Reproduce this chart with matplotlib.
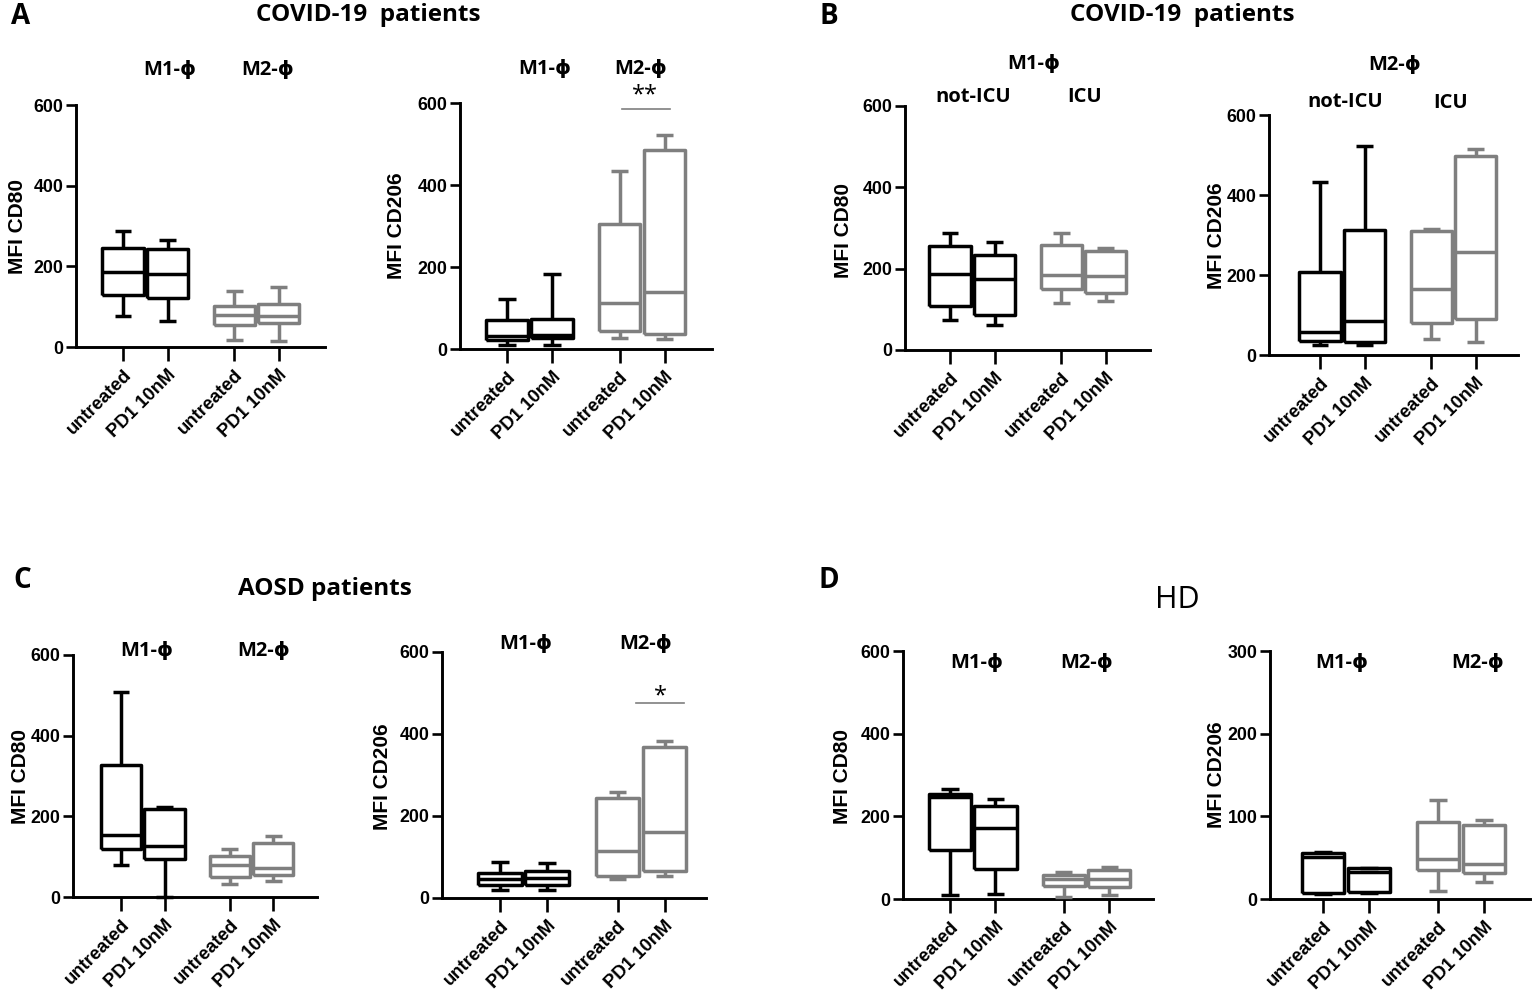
import matplotlib
matplotlib.use("Agg")
import matplotlib.pyplot as plt

W, H = 1535, 994

# ---------------- data (box statistics) ----------------
tick_labels = ["untreated", "PD1 10nM", "untreated", "PD1 10nM"]
positions = [0, 1, 2.5, 3.5]
box_colors = ["#000000", "#000000", "#7f7f7f", "#7f7f7f"]

# A1: COVID-19, MFI CD80
A1_whislo = [76, 64, 17, 14]
A1_q1 = [130, 121, 55, 59]
A1_med = [187, 181, 80, 78]
A1_q3 = [245, 243, 102, 107]
A1_whishi = [288, 266, 139, 149]

# A2: COVID-19, MFI CD206
A2_whislo = [10, 10, 26, 24]
A2_q1 = [22, 26, 44, 36]
A2_med = [32, 34, 111, 138]
A2_q3 = [71, 72, 304, 485]
A2_whishi = [123, 182, 434, 523]

# B1: COVID-19 M1, not-ICU / ICU, MFI CD80
B1_whislo = [74, 61, 116, 121]
B1_q1 = [108, 86, 149, 139]
B1_med = [186, 174, 184, 182]
B1_q3 = [256, 234, 258, 244]
B1_whishi = [287, 265, 287, 250]

# B2: COVID-19 M2, not-ICU / ICU, MFI CD206
B2_whislo = [25, 25, 40, 32]
B2_q1 = [36, 33, 81, 89]
B2_med = [58, 86, 166, 258]
B2_q3 = [208, 313, 310, 497]
B2_whishi = [432, 522, 315, 515]

# C1: AOSD, MFI CD80
C1_whislo = [79, 0, 31, 39]
C1_q1 = [120, 95, 50, 55]
C1_med = [153, 126, 79, 73]
C1_q3 = [327, 219, 101, 134]
C1_whishi = [509, 224, 118, 151]

# C2: AOSD, MFI CD206
C2_whislo = [20, 20, 46, 54]
C2_q1 = [32, 32, 54, 65]
C2_med = [46, 49, 115, 162]
C2_q3 = [61, 65, 245, 369]
C2_whishi = [89, 85, 258, 384]

# D1: HD, MFI CD80
D1_whislo = [10, 13, 6, 9]
D1_q1 = [119, 72, 32, 28]
D1_med = [247, 172, 48, 48]
D1_q3 = [255, 225, 59, 71]
D1_whishi = [265, 241, 65, 77]

# D2: HD, MFI CD206
D2_whislo = [6, 7, 10, 20]
D2_q1 = [7, 8, 35, 31]
D2_med = [51, 33, 48, 42]
D2_q3 = [56, 37, 93, 89]
D2_whishi = [57, 38, 120, 95]

# ---------------- helpers ----------------
BOLD_SANS = ["Open Sans", "DejaVu Sans"]
TICK_FONT = "Liberation Sans"


def fx(x):
    return x / W


def fy(y):
    return 1 - y / H


fig = plt.figure(figsize=(W / 100, H / 100), dpi=100)
fig.patch.set_facecolor("white")


def panel(geom, whislo, q1, med, q3, whishi, ymax, yticks, ylabel, ylab_xy):
    left, right, top, bottom, t0, sp = geom
    ax = fig.add_axes([fx(left), fy(bottom), fx(right - left), (bottom - top) / H])
    ax.set_xlim((left - t0) / sp, (right - t0) / sp)
    ax.set_ylim(0, ymax)
    stats = []
    for i in range(4):
        stats.append(dict(med=med[i], q1=q1[i], q3=q3[i],
                          whislo=whislo[i], whishi=whishi[i], fliers=[]))
    for i in range(4):
        c = box_colors[i]
        lw = 2.5
        arts = ax.bxp([stats[i]], positions=[positions[i]], widths=0.93,
                      showfliers=False, capwidths=0.38,
                      boxprops=dict(color=c, lw=lw),
                      medianprops=dict(color=c, lw=lw),
                      whiskerprops=dict(color=c, lw=lw),
                      capprops=dict(color=c, lw=lw),
                      manage_ticks=False)
        for k in arts:
            for a in arts[k]:
                a.set_clip_on(False)
                a.set_solid_capstyle("butt")
    for s in ["top", "right"]:
        ax.spines[s].set_visible(False)
    for s in ["left", "bottom"]:
        ax.spines[s].set_linewidth(2.1)
        ax.spines[s].set_zorder(0.5)
    ax.set_yticks(yticks)
    ax.set_yticklabels([str(t) for t in yticks], fontsize=12.8,
                       fontweight="bold", family=TICK_FONT)
    ax.set_xticks(positions)
    ax.set_xticklabels(tick_labels, rotation=45, ha="right", va="top",
                       rotation_mode="anchor", fontsize=13.3,
                       fontweight="bold", family=TICK_FONT)
    ax.tick_params(axis="y", length=7, width=1.9, pad=2)
    ax.tick_params(axis="x", length=10, width=1.9, pad=4)
    ax.patch.set_visible(False)
    fig.text(fx(ylab_xy[0]), fy(ylab_xy[1]), ylabel, rotation=90,
             ha="center", va="center", fontsize=15, fontweight="bold",
             family=TICK_FONT)
    return ax


def label(x, y, s, size=13.5, weight="bold"):
    fig.text(fx(x), fy(y), s, ha="center", va="center", fontsize=size,
             fontweight=weight, family=BOLD_SANS)


# ---------------- panels ----------------
y600 = [0, 200, 400, 600]
y300 = [0, 100, 200, 300]

panel((76, 325, 105, 347, 123, 44.5), A1_whislo, A1_q1, A1_med, A1_q3, A1_whishi,
      600, y600, "MFI CD80", (18, 226))
panel((460, 712, 103, 349, 507, 45), A2_whislo, A2_q1, A2_med, A2_q3, A2_whishi,
      600, y600, "MFI CD206", (397, 226))
panel((905, 1150, 106, 350, 950, 44.5), B1_whislo, B1_q1, B1_med, B1_q3, B1_whishi,
      600, y600, "MFI CD80", (843, 230))
panel((1269, 1518, 115, 355, 1320, 44.5), B2_whislo, B2_q1, B2_med, B2_q3, B2_whishi,
      600, y600, "MFI CD206", (1216, 236))
panel((73, 317, 655, 897, 121, 43.5), C1_whislo, C1_q1, C1_med, C1_q3, C1_whishi,
      600, y600, "MFI CD80", (21, 777))
panel((442, 706, 652, 898, 500, 47), C2_whislo, C2_q1, C2_med, C2_q3, C2_whishi,
      600, y600, "MFI CD206", (383, 777))
panel((903, 1153, 651, 899, 950, 45.5), D1_whislo, D1_q1, D1_med, D1_q3, D1_whishi,
      600, y600, "MFI CD80", (842, 776))
panel((1270, 1530, 651, 899, 1323, 46), D2_whislo, D2_q1, D2_med, D2_q3, D2_whishi,
      300, y300, "MFI CD206", (1216, 775))

# ---------------- titles and labels ----------------
for x, y, s in [(21, 16, "A"), (829, 17, "B"), (22, 580, "C"), (829, 581, "D")]:
    label(x, y, s, size=20)

label(368, 15, "COVID-19  patients", size=17.5)
label(1182, 15, "COVID-19  patients", size=17.5)
label(325, 589, "AOSD patients", size=17.5)
label(1177, 600, "HD", size=22, weight="normal")

# group labels
for x, y, s in [(170, 70, "M1-ϕ"), (268, 70, "M2-ϕ"),
                (545, 69, "M1-ϕ"), (641, 69, "M2-ϕ"),
                (1034, 64, "M1-ϕ"), (973, 97, "not-ICU"), (1085, 97, "ICU"),
                (1395, 65, "M2-ϕ"), (1345, 102, "not-ICU"), (1451, 103, "ICU"),
                (147, 651, "M1-ϕ"), (264, 651, "M2-ϕ"),
                (526, 644, "M1-ϕ"), (646, 644, "M2-ϕ"),
                (977, 663, "M1-ϕ"), (1087, 663, "M2-ϕ"),
                (1342, 663, "M1-ϕ"), (1478, 663, "M2-ϕ")]:
    label(x, y, s, size=14.5)

# significance marks
fig.add_artist(plt.Line2D([fx(622), fx(670)], [fy(109), fy(109)], color="#7f7f7f", lw=1.2))
label(645, 95, "**", size=17, weight="normal")
fig.add_artist(plt.Line2D([fx(636), fx(684)], [fy(703), fy(703)], color="#7f7f7f", lw=1.2))
label(660, 696, "*", size=17, weight="normal")

fig.savefig("out.png", dpi=100, facecolor="white")
